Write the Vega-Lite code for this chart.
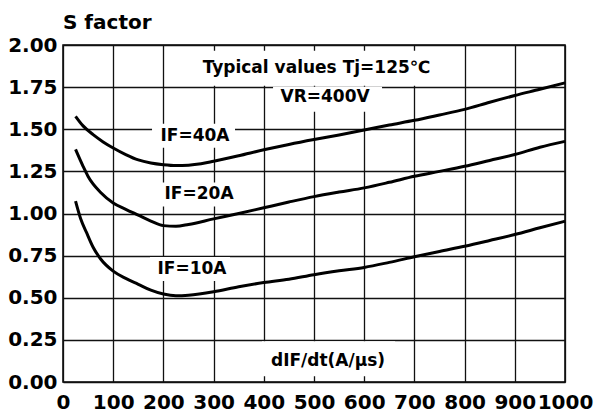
{
  "$schema": "https://vega.github.io/schema/vega-lite/v6.json",
  "width": 502,
  "height": 337,
  "autosize": {"type": "none"},
  "padding": {"left": 63, "top": 45, "right": 29, "bottom": 30},
  "background": "white",
  "title": {"text": "S factor", "anchor": "start", "frame": "group", "font": "DejaVu Sans", "fontSize": 20, "fontWeight": "bold", "color": "black", "offset": 2},
  "config": {
    "view": {"stroke": "black", "strokeWidth": 1.5},
    "axis": {"grid": true, "gridColor": "#111111", "gridWidth": 1.3, "gridOpacity": 1, "domain": false, "ticks": false, "labelFont": "DejaVu Sans", "labelFontSize": 20, "labelFontWeight": "bold", "labelColor": "black", "labelOverlap": false, "labelBound": false, "labelFlush": false}
  },
  "datasets": {
    "curves": [
      {"series": "IF=40A", "x": 25, "y": 1.577},
      {"series": "IF=40A", "x": 40, "y": 1.52},
      {"series": "IF=40A", "x": 60, "y": 1.468},
      {"series": "IF=40A", "x": 80, "y": 1.425},
      {"series": "IF=40A", "x": 100, "y": 1.389},
      {"series": "IF=40A", "x": 125, "y": 1.35},
      {"series": "IF=40A", "x": 150, "y": 1.318},
      {"series": "IF=40A", "x": 175, "y": 1.3},
      {"series": "IF=40A", "x": 200, "y": 1.29},
      {"series": "IF=40A", "x": 225, "y": 1.285},
      {"series": "IF=40A", "x": 250, "y": 1.287},
      {"series": "IF=40A", "x": 275, "y": 1.295},
      {"series": "IF=40A", "x": 300, "y": 1.31},
      {"series": "IF=40A", "x": 350, "y": 1.343},
      {"series": "IF=40A", "x": 400, "y": 1.378},
      {"series": "IF=40A", "x": 450, "y": 1.41},
      {"series": "IF=40A", "x": 500, "y": 1.439},
      {"series": "IF=40A", "x": 550, "y": 1.466},
      {"series": "IF=40A", "x": 600, "y": 1.495},
      {"series": "IF=40A", "x": 650, "y": 1.525},
      {"series": "IF=40A", "x": 700, "y": 1.553},
      {"series": "IF=40A", "x": 750, "y": 1.585},
      {"series": "IF=40A", "x": 800, "y": 1.618},
      {"series": "IF=40A", "x": 850, "y": 1.66},
      {"series": "IF=40A", "x": 900, "y": 1.7},
      {"series": "IF=40A", "x": 950, "y": 1.737},
      {"series": "IF=40A", "x": 1000, "y": 1.775},
      {"series": "IF=20A", "x": 25, "y": 1.38},
      {"series": "IF=20A", "x": 40, "y": 1.28},
      {"series": "IF=20A", "x": 50, "y": 1.22},
      {"series": "IF=20A", "x": 75, "y": 1.125},
      {"series": "IF=20A", "x": 100, "y": 1.063},
      {"series": "IF=20A", "x": 125, "y": 1.025},
      {"series": "IF=20A", "x": 150, "y": 0.99},
      {"series": "IF=20A", "x": 175, "y": 0.955},
      {"series": "IF=20A", "x": 200, "y": 0.928},
      {"series": "IF=20A", "x": 225, "y": 0.924},
      {"series": "IF=20A", "x": 250, "y": 0.935},
      {"series": "IF=20A", "x": 300, "y": 0.968},
      {"series": "IF=20A", "x": 350, "y": 1.0},
      {"series": "IF=20A", "x": 400, "y": 1.034},
      {"series": "IF=20A", "x": 450, "y": 1.068},
      {"series": "IF=20A", "x": 500, "y": 1.1},
      {"series": "IF=20A", "x": 550, "y": 1.127},
      {"series": "IF=20A", "x": 600, "y": 1.152},
      {"series": "IF=20A", "x": 650, "y": 1.185},
      {"series": "IF=20A", "x": 700, "y": 1.221},
      {"series": "IF=20A", "x": 750, "y": 1.25},
      {"series": "IF=20A", "x": 800, "y": 1.28},
      {"series": "IF=20A", "x": 850, "y": 1.315},
      {"series": "IF=20A", "x": 900, "y": 1.35},
      {"series": "IF=20A", "x": 950, "y": 1.393},
      {"series": "IF=20A", "x": 1000, "y": 1.428},
      {"series": "IF=10A", "x": 25, "y": 1.073},
      {"series": "IF=10A", "x": 35, "y": 0.97},
      {"series": "IF=10A", "x": 47, "y": 0.886},
      {"series": "IF=10A", "x": 60, "y": 0.8},
      {"series": "IF=10A", "x": 75, "y": 0.73},
      {"series": "IF=10A", "x": 100, "y": 0.658},
      {"series": "IF=10A", "x": 125, "y": 0.615},
      {"series": "IF=10A", "x": 150, "y": 0.58},
      {"series": "IF=10A", "x": 175, "y": 0.545},
      {"series": "IF=10A", "x": 200, "y": 0.522},
      {"series": "IF=10A", "x": 225, "y": 0.512},
      {"series": "IF=10A", "x": 250, "y": 0.515},
      {"series": "IF=10A", "x": 300, "y": 0.535},
      {"series": "IF=10A", "x": 350, "y": 0.565},
      {"series": "IF=10A", "x": 400, "y": 0.59},
      {"series": "IF=10A", "x": 450, "y": 0.61},
      {"series": "IF=10A", "x": 500, "y": 0.637},
      {"series": "IF=10A", "x": 550, "y": 0.66},
      {"series": "IF=10A", "x": 600, "y": 0.68},
      {"series": "IF=10A", "x": 650, "y": 0.71},
      {"series": "IF=10A", "x": 700, "y": 0.743},
      {"series": "IF=10A", "x": 750, "y": 0.775},
      {"series": "IF=10A", "x": 800, "y": 0.806},
      {"series": "IF=10A", "x": 850, "y": 0.84},
      {"series": "IF=10A", "x": 900, "y": 0.875},
      {"series": "IF=10A", "x": 950, "y": 0.915},
      {"series": "IF=10A", "x": 1000, "y": 0.954}
    ],
    "labels": [
      {"label": "Typical values Tj=125℃", "x": 505, "y": 1.865},
      {"label": "VR=400V", "x": 522, "y": 1.69},
      {"label": "IF=40A", "x": 263, "y": 1.462},
      {"label": "IF=20A", "x": 271, "y": 1.113},
      {"label": "IF=10A", "x": 257, "y": 0.671},
      {"label": "dIF/dt(A/μs)", "x": 528, "y": 0.123}
    ]
  },
  "layer": [
    {
      "data": {"name": "labels"},
      "mark": {"type": "point", "filled": true, "fill": "white", "strokeWidth": 0, "opacity": 1, "size": 10000},
      "encoding": {
        "x": {"field": "x", "type": "quantitative", "title": null},
        "y": {"field": "y", "type": "quantitative", "title": null},
        "shape": {
          "field": "label",
          "type": "nominal",
          "legend": null,
          "scale": {
            "domain": ["Typical values Tj=125℃", "VR=400V", "IF=40A", "IF=20A", "IF=10A", "dIF/dt(A/μs)"],
            "range": [
              "M-2.43,-0.34L2.57,-0.34L2.57,0.36L-2.43,0.36Z",
              "M-1.04,-0.21L1.14,-0.21L1.14,0.29L-1.04,0.29Z",
              "M-0.86,-0.24L0.8,-0.24L0.8,0.24L-0.86,0.24Z",
              "M-0.84,-0.24L0.84,-0.24L0.84,0.24L-0.84,0.24Z",
              "M-0.84,-0.24L0.76,-0.24L0.76,0.24L-0.84,0.24Z",
              "M-1.32,-0.4L1.34,-0.4L1.34,0.3L-1.32,0.3Z"
            ]
          }
        }
      }
    },
    {
      "data": {"name": "curves"},
      "mark": {"type": "line", "color": "black", "strokeWidth": 3, "interpolate": "monotone"},
      "encoding": {
        "x": {"field": "x", "type": "quantitative", "title": null, "scale": {"domain": [0, 1000], "nice": false},
              "axis": {"values": [0, 100, 200, 300, 400, 500, 600, 700, 800, 900, 1000], "format": "d", "labelPadding": 10}},
        "y": {"field": "y", "type": "quantitative", "title": null, "scale": {"domain": [0, 2], "nice": false},
              "axis": {"values": [0, 0.25, 0.5, 0.75, 1, 1.25, 1.5, 1.75, 2], "format": ".2f", "labelPadding": 6}},
        "detail": {"field": "series", "type": "nominal"}
      }
    },
    {
      "data": {"name": "labels"},
      "mark": {"type": "text", "font": "DejaVu Sans", "fontSize": 17, "fontWeight": "bold", "color": "black", "align": "center", "baseline": "middle"},
      "encoding": {
        "x": {"field": "x", "type": "quantitative", "title": null},
        "y": {"field": "y", "type": "quantitative", "title": null},
        "text": {"field": "label", "type": "nominal"}
      }
    }
  ]
}
